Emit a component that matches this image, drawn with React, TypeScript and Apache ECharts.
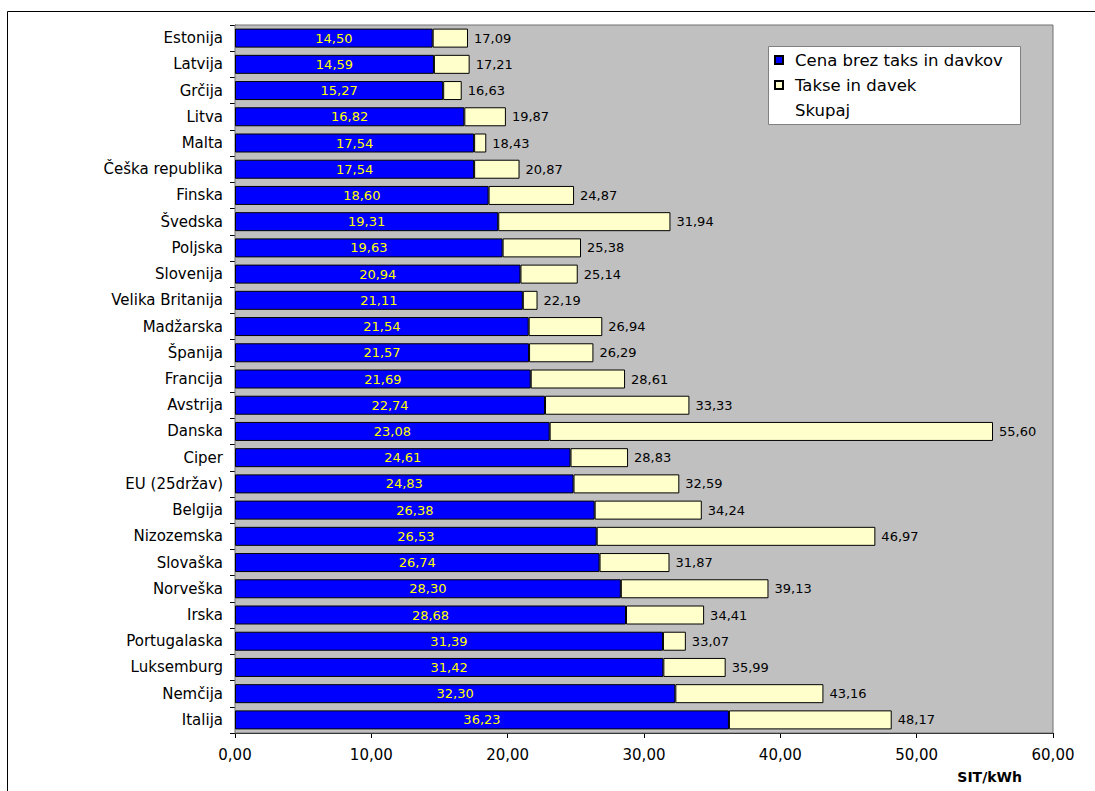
import React, { useEffect, useRef } from "react";
import * as echarts from "echarts";

const categories = [
  "Estonija", "Latvija", "Grčija", "Litva", "Malta", "Češka republika", "Finska",
  "Švedska", "Poljska", "Slovenija", "Velika Britanija", "Madžarska", "Španija",
  "Francija", "Avstrija", "Danska", "Ciper", "EU (25držav)", "Belgija", "Nizozemska",
  "Slovaška", "Norveška", "Irska", "Portugalaska", "Luksemburg", "Nemčija", "Italija",
];
const basePrice = [
  14.5, 14.59, 15.27, 16.82, 17.54, 17.54, 18.6, 19.31, 19.63, 20.94, 21.11, 21.54, 21.57,
  21.69, 22.74, 23.08, 24.61, 24.83, 26.38, 26.53, 26.74, 28.3, 28.68, 31.39, 31.42, 32.3, 36.23,
];
const totalPrice = [
  17.09, 17.21, 16.63, 19.87, 18.43, 20.87, 24.87, 31.94, 25.38, 25.14, 22.19, 26.94, 26.29,
  28.61, 33.33, 55.6, 28.83, 32.59, 34.24, 46.97, 31.87, 39.13, 34.41, 33.07, 35.99, 43.16, 48.17,
];
const taxes = totalPrice.map((t, i) => Math.round((t - basePrice[i]) * 100) / 100);
const xTicks = [0, 10, 20, 30, 40, 50, 60];

const fmt = (v: number) => v.toFixed(2).replace(".", ",");
const FONT = "DejaVu Sans";

export default function App() {
  const ref = useRef<HTMLDivElement>(null);
  useEffect(() => {
    if (!ref.current) return;
    const chart = echarts.init(ref.current, null, { renderer: "svg" });
    chart.setOption({
      animation: false,
      graphic: [
        {
          type: "rect",
          z: 0,
          shape: { x: 7.5, y: 11.5, width: 1200, height: 900 },
          style: { fill: "#fff", stroke: "#000", lineWidth: 1 },
        },
        {
          type: "rect",
          z: 3,
          shape: { x: 768.5, y: 46.5, width: 252, height: 78 },
          style: { fill: "#fff", stroke: "#808080", lineWidth: 1 },
        },
        {
          type: "text",
          z: 5,
          x: 1022,
          y: 777,
          style: {
            text: "SIT/kWh",
            font: `bold 14px ${FONT}`,
            fill: "#000",
            align: "right",
            verticalAlign: "middle",
          },
        },
      ],
      legend: {
        orient: "vertical",
        left: 774,
        top: 51,
        padding: 0,
        icon: "rect",
        itemWidth: 8,
        itemHeight: 8,
        itemGap: 7,
        z: 6,
        textStyle: {
          fontFamily: FONT,
          fontSize: 16.5,
          color: "#000",
          lineHeight: 18,
          padding: [0, 0, 0, 7],
        },
        data: ["Cena brez taks in davkov", "Takse in davek", "Skupaj"],
      },
      grid: {
        left: 235,
        right: 42,
        top: 25,
        bottom: 58,
        show: true,
        backgroundColor: "#c0c0c0",
        borderColor: "#707070",
        borderWidth: 1,
        z: 1,
      },
      xAxis: {
        type: "value",
        min: xTicks[0],
        max: xTicks[xTicks.length - 1],
        interval: 10,
        axisLine: { show: true, lineStyle: { color: "#000" } },
        axisTick: { show: true, length: 5, lineStyle: { color: "#000" } },
        splitLine: { show: false },
        axisLabel: {
          margin: 14,
          fontFamily: FONT,
          fontSize: 15,
          color: "#000",
          formatter: (v: number) => fmt(v),
        },
      },
      yAxis: {
        type: "category",
        inverse: true,
        data: categories,
        axisLine: { show: true, lineStyle: { color: "#000" } },
        axisTick: { show: true, length: 5, alignWithLabel: false, lineStyle: { color: "#000" } },
        axisLabel: { margin: 12, fontFamily: FONT, fontSize: 15, color: "#000" },
      },
      series: [
        {
          name: "Cena brez taks in davkov",
          type: "bar",
          stack: "a",
          barWidth: 19,
          data: basePrice,
          itemStyle: { color: "#0000ff", borderColor: "#000", borderWidth: 1 },
          label: {
            show: true,
            position: "inside",
            color: "#ffff00",
            fontFamily: FONT,
            fontSize: 13,
            formatter: (p: any) => fmt(p.value),
          },
        },
        {
          name: "Takse in davek",
          type: "bar",
          stack: "a",
          barWidth: 19,
          data: taxes,
          itemStyle: { color: "#ffffcc", borderColor: "#000", borderWidth: 1 },
        },
        {
          name: "Skupaj",
          type: "bar",
          barWidth: 19,
          barGap: "-100%",
          data: totalPrice,
          itemStyle: { color: "rgba(0,0,0,0)", borderWidth: 0 },
          label: {
            show: true,
            position: "right",
            distance: 6,
            color: "#000",
            fontFamily: FONT,
            fontSize: 13,
            formatter: (p: any) => fmt(p.value),
          },
        },
      ],
    });
    return () => chart.dispose();
  }, []);
  return (
    <div
      ref={ref}
      style={{ position: "absolute", left: 0, top: 0, width: 1095, height: 791 }}
    />
  );
}
